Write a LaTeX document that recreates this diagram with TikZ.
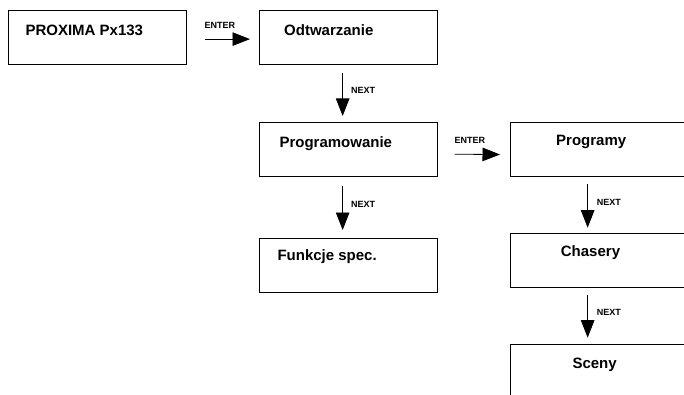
\documentclass[tikz,border=0pt]{standalone}
\usepackage{fontspec}
\setmainfont{Liberation Sans}
\usetikzlibrary{arrows.meta}
\tikzset{
  menubox/.style={draw, line width=0.8pt, minimum width=177.5pt, minimum height=54pt, inner sep=0pt, anchor=north west},
  menutext/.style={font=\fontsize{15}{18}\selectfont\bfseries, inner sep=0pt, anchor=base west},
  keyarrow/.style={line width=0.8pt, -{Triangle[length=17.5pt,width=13.5pt]}},
  keytext/.style={font=\fontsize{9}{11}\selectfont\bfseries, inner sep=0pt, anchor=base west}
}
\begin{document}
\begin{tikzpicture}[x=1pt,y=-1pt]
\useasboundingbox (0,0) rectangle (684,395);
\clip (0,0) rectangle (684,395);
\path (8,10) node[menubox](Proxima){} (259,10) node[menubox](Odtwarzanie){} (259,121.8) node[menubox](Programowanie){} (259,237.7) node[menubox](Funkcje){} (509.5,122.3) node[menubox](Programy){} (509.5,233.3) node[menubox](Chasery){} (509.5,344) node[menubox](Sceny){};

\path (25.3,36) node[menutext](ProximaText){PROXIMA Px133} (284,35.7) node[menutext](OdtwarzanieText){Odtwarzanie} (279.3,147.3) node[menutext](ProgramowanieText){Programowanie} (277.3,260.7) node[menutext](FunkcjeText){Funkcje spec.} (556,145.7) node[menutext](ProgramyText){Programy} (560.7,256.7) node[menutext](ChaseryText){Chasery} (572.3,368.3) node[menutext](ScenyText){Sceny};

\path (204.3,29) node[keytext](EnterA){ENTER} (454.3,144) node[keytext](EnterB){ENTER} (351,93.3) node[keytext](NextA){NEXT} (351,207.3) node[keytext](NextB){NEXT} (596.7,205.7) node[keytext](NextC){NEXT} (596.7,315) node[keytext](NextD){NEXT};

\draw[keyarrow, shorten <=18.8pt, shorten >=9pt] ([yshift=-1.7pt]Proxima.east) -- ([yshift=-1.7pt]Odtwarzanie.west);
\draw[keyarrow, shorten <=17.3pt, shorten >=9.5pt] ([yshift=-4.9pt]Programowanie.east) -- ([yshift=-4.9pt]Programy.west);
\draw[keyarrow, shorten <=8.3pt, shorten >=5.8pt] ([xshift=-5.5pt]Odtwarzanie.south) -- ([xshift=-5.5pt]Programowanie.north);
\draw[keyarrow, shorten <=9.9pt, shorten >=7.7pt] ([xshift=-5.5pt]Programowanie.south) -- ([xshift=-5.5pt]Funkcje.north);
\draw[keyarrow, shorten <=7pt, shorten >=5.6pt] ([xshift=-11pt]Programy.south) -- ([xshift=-11pt]Chasery.north);
\draw[keyarrow, shorten <=6.7pt, shorten >=6.3pt] ([xshift=-11pt]Chasery.south) -- ([xshift=-11pt]Sceny.north);
\end{tikzpicture}
\end{document}
